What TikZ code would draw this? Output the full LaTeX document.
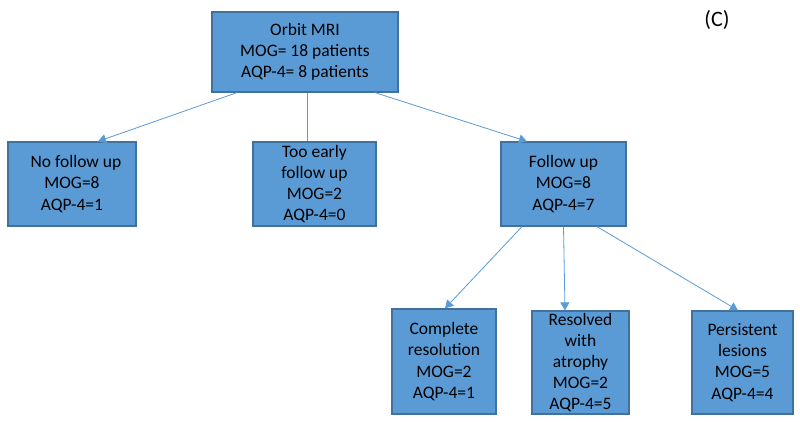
\documentclass[tikz,border=0pt]{standalone}
\usepackage{fontspec}
\setmainfont{Carlito}
\usetikzlibrary{arrows.meta,calc}
\definecolor{boxfill}{HTML}{5B9BD5}
\definecolor{boxline}{HTML}{41719C}
\definecolor{arrowcol}{HTML}{5B9BD5}
\begin{document}
\begin{tikzpicture}[x=1pt,y=-1pt,
  box/.style={draw=boxline, line width=1.2pt, fill=boxfill, align=center, inner sep=0pt,
    font=\fontsize{17.5}{21.2}\selectfont, text=black},
  conn/.style={draw=arrowcol, line width=0.8pt},
  arr/.style={conn, -{Triangle[length=8pt,width=9pt]}}]
\useasboundingbox (0,0) rectangle (800,422);
\fill[white] (0,0) rectangle (800,422);
\node[box, minimum width=186pt, minimum height=80pt] (top) at (305,52) {Orbit MRI\\MOG= 18 patients\\AQP-4= 8 patients};
\node[box, minimum width=128pt, minimum height=84pt] (nofollow) at (72,184) {\hspace{8pt}No follow up\\MOG=8\\AQP-4=1};
\node[box, minimum width=123pt, minimum height=84pt] (tooearly) at (314.5,184) {Too early\\follow up\\MOG=2\\AQP-4=0};
\node[box, minimum width=125pt, minimum height=84pt] (followup) at (563.5,184) {Follow up\\MOG=8\\AQP-4=7};
\node[box, minimum width=104pt, minimum height=105pt] (complete) at (444,361.5) {Complete\\resolution\\MOG=2\\AQP-4=1};
\node[box, minimum width=97pt, minimum height=103pt] (resolved) at (580.5,362.5) {Resolved\\with\\atrophy\\MOG=2\\AQP-4=5};
\node[box, minimum width=101pt, minimum height=103pt] (persistent) at (742.5,362.5) {Persistent\\lesions\\MOG=5\\AQP-4=4};
\node[font=\fontsize{22}{26}\selectfont] (label) at (717,20) {(C)};
\draw[arr] ([xshift=-68pt]top.south) -- ([xshift=26pt]nofollow.north);
\draw[conn] ([xshift=2pt]top.south) -- ([xshift=-7.5pt]tooearly.north);
\draw[arr] ([xshift=70pt]top.south) -- ([xshift=-36.5pt]followup.north);
\draw[arr] ([xshift=-41.5pt]followup.south) -- ([xshift=1pt]complete.north);
\draw[arr] ([xshift=0pt]followup.south) -- ([xshift=-15.5pt]resolved.north);
\draw[arr] ([xshift=33.5pt]followup.south) -- ([xshift=-4.5pt]persistent.north);
\end{tikzpicture}
\end{document}
